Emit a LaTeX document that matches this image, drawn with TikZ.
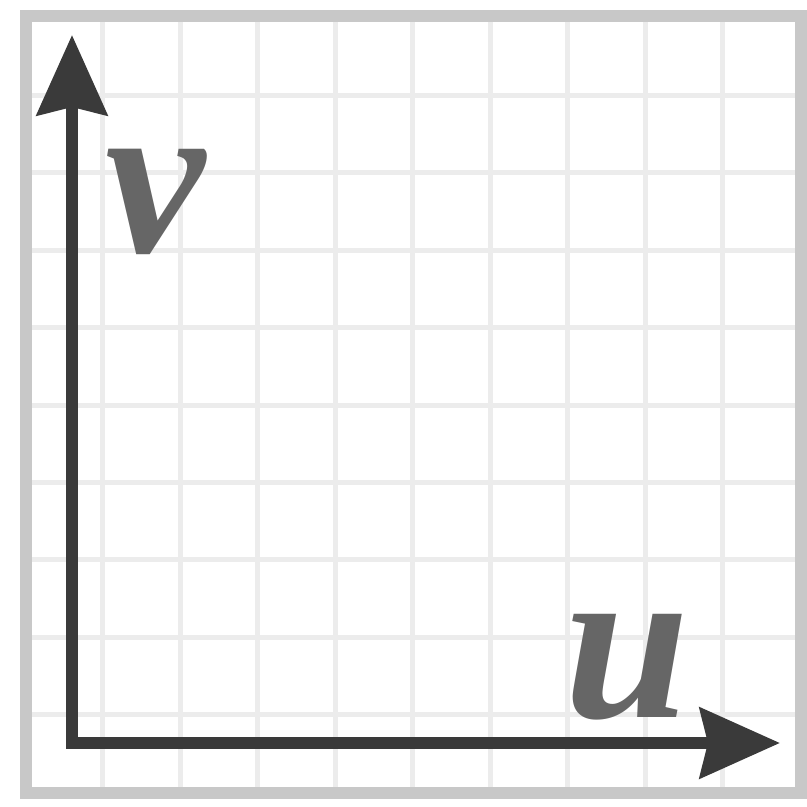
\documentclass[tikz,border=0pt]{standalone}
\usepackage{fontspec}
\newfontfamily\labelfont{Liberation Serif}
\usetikzlibrary{arrows.meta}
\definecolor{gridgray}{HTML}{ECECEC}
\definecolor{framegray}{HTML}{C8C8C8}
\definecolor{axisgray}{HTML}{3A3A3A}
\definecolor{labelgray}{HTML}{666666}

\begin{document}
\begin{tikzpicture}[x=1cm,y=1cm,>={Stealth[length=8mm,width=7mm,inset=0.8mm]}]
    \def\cell{0.775}
    \useasboundingbox (0,0) rectangle (8.07,8.07);

    % grid lines inside the frame
    \foreach \k in {0,...,8} {
        \draw[gridgray,line width=0.05cm] ({1.03+\k*\cell},0.2) -- ({1.03+\k*\cell},7.85);
        \draw[gridgray,line width=0.05cm] (0.32,{7.12-\k*\cell}) -- (7.95,{7.12-\k*\cell});
    }
    % frame
    \draw[framegray,line width=0.12cm] (0.26,0.14) rectangle (8.01,7.91);

    % axes
    \coordinate (o) at (0.72,0.64);
    \coordinate (vtip) at (0.72,7.72);
    \coordinate (utip) at (7.80,0.64);
    \draw[axisgray,line width=0.12cm,<->] (vtip) -- (o) -- (utip);

    \tikzset{axislabel/.style={labelgray,inner sep=0pt,
        font=\labelfont\bfseries\itshape\fontsize{64}{64}\selectfont}}
    \node[axislabel,anchor=base] (vlabel) at (1.55,5.55) {v};
    \node[axislabel,anchor=base] (ulabel) at (6.27,0.90) {u};
\end{tikzpicture}
\end{document}
